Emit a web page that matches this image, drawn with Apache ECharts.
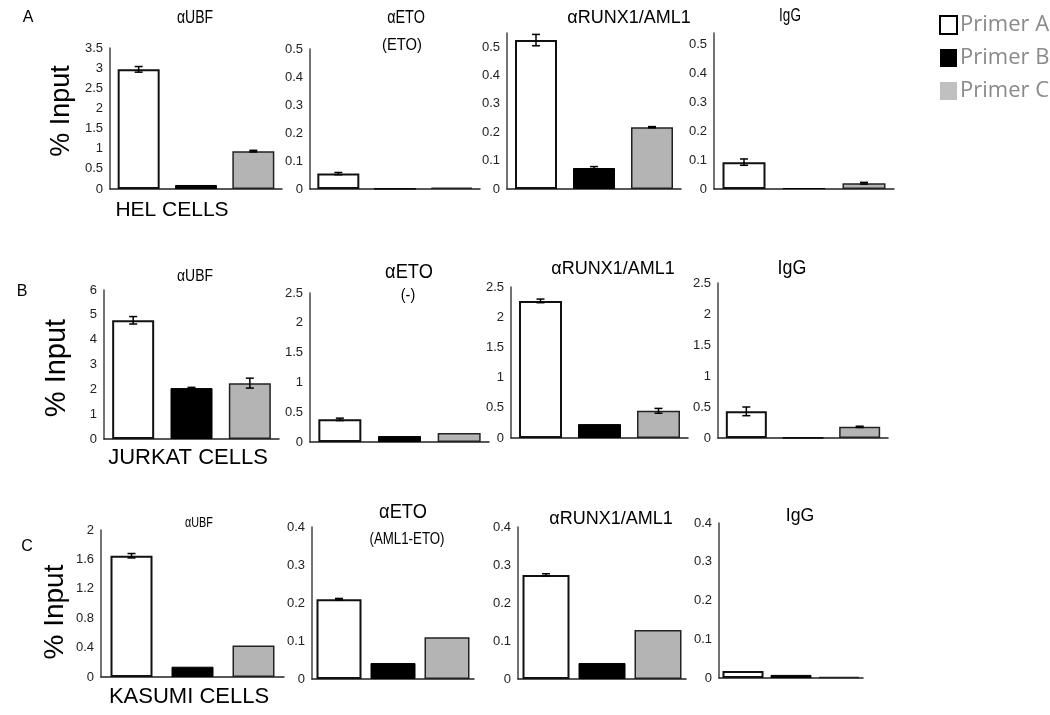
<!DOCTYPE html>
<html>
<head>
<meta charset="utf-8">
<script src="https://cdn.jsdelivr.net/npm/echarts@6/dist/echarts.min.js"></script>
<style>html,body{margin:0;padding:0;background:#fff;}#main{width:1050px;height:715px;}</style>
</head>
<body>
<div id="main"></div>
<script>
// ---------- DATA ----------
const primers = ['Primer A', 'Primer B', 'Primer C'];
const antibodies = ['αUBF', 'αETO', 'αRUNX1/AML1', 'IgG'];
const rowLetters = ['A', 'B', 'C'];
const cellLines = ['HEL CELLS', 'JURKAT CELLS', 'KASUMI CELLS'];
const etoSubtitles = ['(ETO)', '(-)', '(AML1-ETO)'];
const yLabel = '% Input';

// values per antibody panel: [Primer A, Primer B, Primer C]
const helValues = [[2.97, 0.10, 0.94], [0.055, 0.001, 0.005], [0.525, 0.074, 0.218], [0.093, 0.003, 0.02]];
const helErrors = [[0.07, 0, 0.02], [0.004, 0, 0], [0.02, 0.005, 0.002], [0.011, 0, 0.003]];
const jurkatValues = [[4.78, 2.05, 2.25], [0.38, 0.10, 0.15], [2.27, 0.23, 0.45], [0.43, 0.003, 0.18]];
const jurkatErrors = [[0.15, 0.03, 0.2], [0.02, 0, 0], [0.03, 0, 0.04], [0.07, 0, 0.01]];
const kasumiValues = [[1.65, 0.14, 0.43], [0.21, 0.042, 0.11], [0.274, 0.042, 0.129], [0.018, 0.008, 0.003]];
const kasumiErrors = [[0.03, 0, 0], [0.002, 0, 0], [0.003, 0, 0], [0, 0, 0]];

// y-axis tick settings
const helAxisMax = [3.5, 0.5, 0.55, 0.54];
const helAxisStep = [0.5, 0.1, 0.1, 0.1];
const jurkatAxisMax = [6, 2.5, 2.5, 2.5];
const jurkatAxisStep = [1, 0.5, 0.5, 0.5];
const kasumiAxisMax = [2, 0.4, 0.4, 0.4];
const kasumiAxisStep = [0.4, 0.1, 0.1, 0.1];

// ---------- LAYOUT ----------
const rowValues = [helValues, jurkatValues, kasumiValues];
const rowErrors = [helErrors, jurkatErrors, kasumiErrors];
const rowMax = [helAxisMax, jurkatAxisMax, kasumiAxisMax];
const rowStep = [helAxisStep, jurkatAxisStep, kasumiAxisStep];

const layout = [
  [{l:110,t:48,w:172,h:141,bw:42},{l:310,t:49,w:170,h:140,bw:42},{l:507,t:33,w:174,h:156,bw:42},{l:714,t:33,w:180,h:156,bw:43}],
  [{l:104,t:290,w:175,h:149,bw:42},{l:310,t:293,w:179,h:149,bw:43},{l:511,t:287,w:177,h:151,bw:43},{l:718,t:283,w:170,h:155,bw:41}],
  [{l:101,t:530,w:183,h:147,bw:42},{l:312,t:527,w:162,h:152,bw:45},{l:518,t:527,w:168,h:152,bw:47},{l:719,t:523,w:144,h:155,bw:41}]
];

const barStyles = [
  {color:'#ffffff', borderColor:'#111', borderWidth:2},
  {color:'#000000', borderColor:'#000', borderWidth:1},
  {color:'#b4b4b4', borderColor:'#222', borderWidth:1.5}
];

const arial = '"Liberation Sans", Arial, sans-serif';

const grids = [], xAxes = [], yAxes = [], series = [];
let idx = 0;
for (let r = 0; r < 3; r++) {
  for (let c = 0; c < 4; c++) {
    const L = layout[r][c];
    const mx = rowMax[r][c], st = rowStep[r][c];
    const aligned = Math.abs(Math.round(mx / st) * st - mx) < 1e-9;
    grids.push({left:L.l, top:L.t, width:L.w, height:L.h, containLabel:false});
    xAxes.push({type:'category', gridIndex:idx, data:primers,
      axisLine:{show:true, lineStyle:{color:'#222', width:1.5}},
      axisTick:{show:false}, axisLabel:{show:false}, splitLine:{show:false}});
    yAxes.push({type:'value', gridIndex:idx, min:0, max:mx, interval:st,
      axisLine:{show:true, lineStyle:{color:'#444', width:1.5}},
      axisTick:{show:false}, splitLine:{show:false},
      axisLabel:{fontSize:13, color:'#222', fontFamily:arial, margin:7, showMaxLabel:aligned}});
    for (let p = 0; p < 3; p++) {
      const d = ['-', '-', '-'];
      d[p] = rowValues[r][c][p];
      series.push({type:'bar', name:primers[p], xAxisIndex:idx, yAxisIndex:idx,
        data:d, barWidth:L.bw, barGap:'-100%', itemStyle:barStyles[p], silent:true});
    }
    const errData = [];
    for (let p = 0; p < 3; p++) {
      const v = rowValues[r][c][p], e = rowErrors[r][c][p];
      if (e > 0) errData.push([p, v - e, v + e]);
    }
    series.push({type:'custom', xAxisIndex:idx, yAxisIndex:idx, data:errData, silent:true, z:5,
      renderItem:function(params, api){
        const x = api.value(0);
        const p1 = api.coord([x, api.value(1)]);
        const p2 = api.coord([x, api.value(2)]);
        const hw = 4;
        const st = {stroke:'#000', lineWidth:1.5};
        return {type:'group', children:[
          {type:'line', shape:{x1:p1[0], y1:p1[1], x2:p2[0], y2:p2[1]}, style:st},
          {type:'line', shape:{x1:p1[0]-hw, y1:p1[1], x2:p1[0]+hw, y2:p1[1]}, style:st},
          {type:'line', shape:{x1:p2[0]-hw, y1:p2[1], x2:p2[0]+hw, y2:p2[1]}, style:st}
        ]};
      }});
    idx++;
  }
}

// ---------- TEXT ----------
// f: font size, s: horizontal condensing
const titlePos = [
  [{x:195,y:18,f:18,s:0.78},{x:406,y:18,f:18,s:0.8},{x:629,y:18,f:18,s:1},{x:790,y:16,f:18,s:0.75}],
  [{x:195,y:276,f:17,s:0.82},{x:409,y:272,f:21,s:0.87},{x:613,y:269,f:18,s:1},{x:792,y:268,f:21,s:0.85}],
  [{x:199,y:523,f:15,s:0.72},{x:403,y:512,f:21,s:0.87},{x:611,y:519,f:18,s:1},{x:800,y:516,f:19,s:0.93}]
];
const subPos = [{x:402,y:46,f:16,s:0.92},{x:408,y:296,f:16,s:0.9},{x:407,y:540,f:16,s:0.83}];
const letterPos = [{x:28,y:18},{x:22,y:292},{x:27,y:547}];
const yLabelPos = [{x:62,y:111,f:27},{x:57,y:368,f:29},{x:55,y:612,f:28}];
const cellPos = [{x:172,y:210,f:21},{x:188,y:458,f:22},{x:189,y:697,f:22}];

const graphic = [];
function txt(x, y, s, size, extra) {
  return Object.assign({type:'text', x:x, y:y, silent:true,
    style:{text:s, font:size + 'px ' + arial, fill:'#000', align:'center', verticalAlign:'middle'}}, extra || {});
}
for (let r = 0; r < 3; r++) {
  for (let c = 0; c < 4; c++) {
    const T = titlePos[r][c];
    graphic.push(txt(T.x, T.y, antibodies[c], T.f, {scaleX:T.s}));
  }
  graphic.push(txt(subPos[r].x, subPos[r].y, etoSubtitles[r], subPos[r].f, {scaleX:subPos[r].s}));
  graphic.push(txt(letterPos[r].x, letterPos[r].y, rowLetters[r], 16));
  graphic.push(txt(yLabelPos[r].x, yLabelPos[r].y, yLabel, yLabelPos[r].f, {rotation:Math.PI/2}));
  graphic.push(txt(cellPos[r].x, cellPos[r].y, cellLines[r], cellPos[r].f));
}

const chart = echarts.init(document.getElementById('main'), null, {renderer:'canvas'});
chart.setOption({
  animation:false,
  backgroundColor:'#ffffff',
  grid:grids, xAxis:xAxes, yAxis:yAxes, series:series,
  legend:{
    data:[
      {name:'Primer A', itemStyle:{color:'#fff', borderColor:'#000', borderWidth:2}},
      {name:'Primer B', itemStyle:{color:'#000', borderColor:'#000', borderWidth:0}},
      {name:'Primer C', itemStyle:{color:'#c0c0c0', borderColor:'#c0c0c0', borderWidth:0}}
    ],
    orient:'vertical', left:934, top:9, icon:'rect', itemWidth:17, itemHeight:18, itemGap:11,
    selectedMode:false,
    textStyle:{fontFamily:'"Open Sans", "Noto Sans", sans-serif', fontSize:22, color:'#8a8a8a', padding:[0,0,0,-2]}
  },
  graphic:graphic
});
</script>
</body>
</html>
